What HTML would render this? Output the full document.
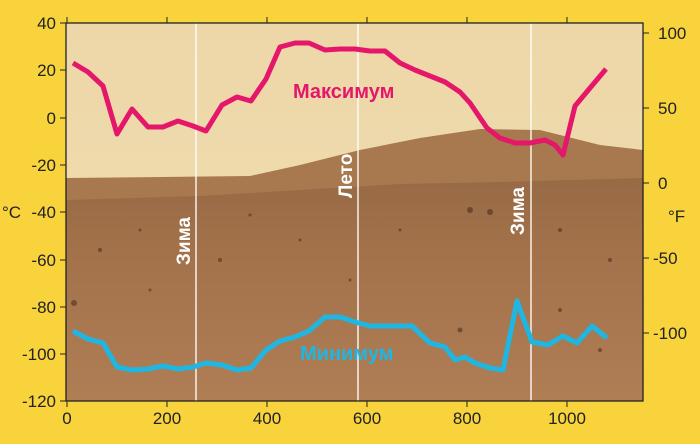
<!DOCTYPE html>
<html><head><meta charset="utf-8"><style>
html,body{margin:0;padding:0;background:#F8D33C;}
svg{display:block;font-family:"Liberation Sans","Noto Sans CJK SC",sans-serif;}
</style></head><body>
<svg width="700" height="444" viewBox="0 0 700 444" xmlns="http://www.w3.org/2000/svg">
<defs>
<linearGradient id="sky" x1="0" y1="0" x2="0" y2="1">
<stop offset="0" stop-color="#EDD7A8"/><stop offset="1" stop-color="#F2DEB4"/></linearGradient>
<linearGradient id="gr" x1="0" y1="0" x2="0" y2="1">
<stop offset="0" stop-color="#976A45"/><stop offset="0.3" stop-color="#A2714A"/><stop offset="1" stop-color="#B07E55"/></linearGradient>
</defs>
<rect width="700" height="444" fill="#F8D33C"/>
<rect x="66" y="23" width="577" height="378" fill="url(#sky)"/>
<path d="M66,178 L250,176 L300,165 L360,150 L420,138 L480,129 L540,130 L600,145 L643,150 L643,401 L66,401 Z" fill="#A8794E"/>
<path d="M66,200 L200,196 L300,190 L400,184 L500,182 L643,178 L643,401 L66,401 Z" fill="url(#gr)"/>
<g fill="#3a2418" opacity="0.5">
<circle cx="100" cy="250" r="2"/><circle cx="140" cy="230" r="1.5"/><circle cx="220" cy="260" r="2"/><circle cx="300" cy="240" r="1.5"/><circle cx="470" cy="210" r="3"/><circle cx="490" cy="212" r="3"/><circle cx="560" cy="230" r="2"/><circle cx="610" cy="260" r="2"/><circle cx="74" cy="303" r="3"/><circle cx="460" cy="330" r="2.5"/><circle cx="560" cy="310" r="2"/><circle cx="600" cy="350" r="2"/><circle cx="250" cy="215" r="1.5"/><circle cx="400" cy="230" r="1.5"/><circle cx="350" cy="280" r="1.5"/><circle cx="150" cy="290" r="1.5"/>
</g>
<g stroke="#fff" stroke-width="1.5" opacity="0.9">
<line x1="196" y1="23" x2="196" y2="401"/><line x1="358" y1="23" x2="358" y2="401"/><line x1="531" y1="23" x2="531" y2="401"/>
</g>
<g fill="#fff" font-size="19" font-weight="bold">
<text transform="translate(190,265) rotate(-90)">Зима</text>
<text transform="translate(352,198) rotate(-90)">Лето</text>
<text transform="translate(524,235) rotate(-90)">Зима</text>
</g>
<polyline fill="none" stroke="#E4176B" stroke-width="5" stroke-linejoin="round" points="73,63 88,72 103,86 117,134 132,109 148,127 163,127 178,121 193,126 206,131 222,105 237,97 251,101 266,79 280,47 295,43 309,43 325,50 340,49 355,49 370,51 385,51 400,63 415,70 430,76 445,82 460,92 470,103 487,128 500,138 515,143 530,143 545,140 555,145 563,155 575,106 590,88 606,69"/>
<polyline fill="none" stroke="#1FB6E2" stroke-width="5" stroke-linejoin="round" points="73,331 88,339 103,343 117,367 132,370 148,369 163,366 178,369 193,367 206,363 222,365 237,370 251,368 266,350 280,341 295,337 309,331 325,317 340,317 355,322 370,326 385,326 400,326 412,326 430,343 445,347 455,360 465,357 475,363 490,368 503,370 517,301 532,342 548,345 563,336 577,343 592,326 607,338"/>
<text x="293" y="98" font-size="20" font-weight="bold" fill="#E4176B">Максимум</text>
<text x="300" y="360" font-size="20" font-weight="bold" fill="#1FB6E2">Минимум</text>
<g stroke="#222" stroke-width="1.3" fill="none">
<rect x="66" y="23" width="577" height="378"/>
</g>
<g stroke="#222" stroke-width="1">
<path d="M66,23 h-6 M66,70 h-6 M66,118 h-6 M66,165 h-6 M66,212 h-6 M66,260 h-6 M66,307 h-6 M66,354 h-6 M66,401 h-6"/>
<path d="M67,401 v6 M167,401 v6 M267,401 v6 M367,401 v6 M467,401 v6 M567,401 v6 M67,23 v-6 M167,23 v-6 M267,23 v-6 M367,23 v-6 M467,23 v-6 M567,23 v-6"/>
<path d="M643,33 h6 M643,108 h6 M643,183 h6 M643,258 h6 M643,333 h6"/>
</g>
<g font-size="17" fill="#222" text-anchor="end">
<text x="56" y="29">40</text><text x="56" y="76">20</text><text x="56" y="124">0</text><text x="56" y="171">-20</text><text x="56" y="218">-40</text><text x="56" y="266">-60</text><text x="56" y="313">-80</text><text x="56" y="360">-100</text><text x="56" y="407">-120</text>
</g>
<text x="2" y="218" font-size="17" fill="#222">°C</text>
<g font-size="17" fill="#222" text-anchor="middle">
<text x="67" y="424">0</text><text x="167" y="424">200</text><text x="267" y="424">400</text><text x="367" y="424">600</text><text x="467" y="424">800</text><text x="567" y="424">1000</text>
</g>
<g font-size="17" fill="#222">
<text x="658" y="39">100</text><text x="658" y="114">50</text><text x="658" y="189">0</text><text x="653" y="264">-50</text><text x="653" y="339">-100</text><text x="668" y="222">°F</text>
</g>
</svg>
</body></html>
